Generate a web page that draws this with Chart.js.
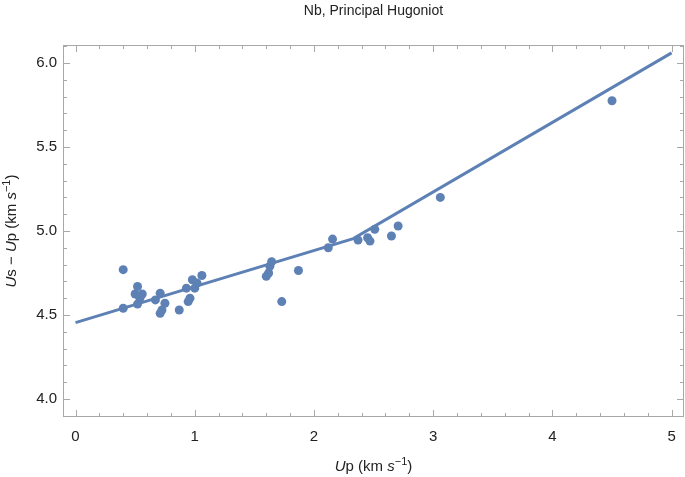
<!DOCTYPE html>
<html><head><meta charset="utf-8">
<script src="https://cdn.jsdelivr.net/npm/chart.js@4"></script>
<style>html,body{margin:0;padding:0;background:#fff}</style>
</head><body>
<canvas id="c" width="685" height="477"></canvas>
<script>
const chartTitle = "Nb, Principal Hugoniot";
// Measured data: particle velocity Up (km/s) and Us - Up (km/s)
const upValues = [0.40, 0.40, 0.50, 0.52, 0.56, 0.52, 0.54, 0.67, 0.71, 0.75, 0.71, 0.725,
  0.87, 0.945, 0.93, 0.96, 0.98, 1.00, 1.02, 1.06,
  1.60, 1.62, 1.63, 1.645, 1.73, 1.87,
  2.12, 2.156, 2.37, 2.45, 2.47, 2.51, 2.65, 2.706, 3.06, 4.50];
const usMinusUpValues = [4.77, 4.54, 4.625, 4.67, 4.625, 4.565, 4.60, 4.59, 4.63, 4.57, 4.51, 4.53,
  4.53, 4.58, 4.66, 4.60, 4.71, 4.66, 4.69, 4.735,
  4.73, 4.75, 4.79, 4.817, 4.58, 4.765,
  4.90, 4.952, 4.946, 4.96, 4.94, 5.01, 4.97, 5.03, 5.20, 5.775];
// Piecewise-linear fit
const fitUp = [0, 2.33, 5];
const fitUsMinusUp = [4.455, 4.955, 6.06];
const xMajorTicks = [0, 1, 2, 3, 4, 5];
const yMajorTicks = [4.0, 4.5, 5.0, 5.5, 6.0];
const xMinorStep = 0.2;
const yMinorStep = 0.1;

const BLUE = '#5E81B5';
const FRAME = '#a8a8a8';
const FONT = '"Liberation Sans", Arial, sans-serif';

function drawRich(ctx, segs, x, y, size) {
  const fontFor = s => (s.it ? 'italic ' : '') + (s.sup ? Math.round(size*0.7) : size) + 'px ' + FONT;
  let w = 0;
  segs.forEach(s => { ctx.font = fontFor(s); w += ctx.measureText(s.t).width; });
  let cx = x - w/2;
  ctx.textBaseline = 'middle';
  ctx.textAlign = 'left';
  segs.forEach(s => {
    ctx.font = fontFor(s);
    ctx.fillText(s.t, cx, s.sup ? y - size*0.35 : y);
    cx += ctx.measureText(s.t).width;
  });
}

const framePlugin = {
  id: 'frame',
  beforeDatasetsDraw(chart) {
    const ctx = chart.ctx, a = chart.chartArea;
    const xs = chart.scales.x, ys = chart.scales.y;
    ctx.save();
    ctx.strokeStyle = FRAME; ctx.lineWidth = 1;
    ctx.strokeRect(Math.round(a.left)+0.5, Math.round(a.top)+0.5, Math.round(a.right-a.left)-1, Math.round(a.bottom-a.top)-1);
    ctx.beginPath();
    const tick = (v, major, axis) => {
      const len = major ? 7 : 4;
      if (axis === 'x') {
        const p = Math.round(xs.getPixelForValue(v)) + 0.5;
        ctx.moveTo(p, a.bottom); ctx.lineTo(p, a.bottom - len);
        ctx.moveTo(p, a.top); ctx.lineTo(p, a.top + len);
      } else {
        const p = Math.round(ys.getPixelForValue(v)) + 0.5;
        ctx.moveTo(a.left, p); ctx.lineTo(a.left + len, p);
        ctx.moveTo(a.right, p); ctx.lineTo(a.right - len, p);
      }
    };
    for (let i = Math.ceil(xs.min / xMinorStep); i * xMinorStep <= xs.max + 1e-9; i++) {
      const v = i * xMinorStep;
      tick(v, xMajorTicks.some(m => Math.abs(m - v) < 1e-6), 'x');
    }
    for (let i = Math.ceil(ys.min / yMinorStep - 1e-9); i * yMinorStep <= ys.max + 1e-9; i++) {
      const v = i * yMinorStep;
      tick(v, yMajorTicks.some(m => Math.abs(m - v) < 1e-6), 'y');
    }
    ctx.stroke();
    ctx.restore();
  },
  afterDraw(chart) {
    const ctx = chart.ctx, a = chart.chartArea;
    const cx = (a.left + a.right) / 2, cy = (a.top + a.bottom) / 2;
    ctx.save();
    ctx.fillStyle = '#222';
    ctx.font = '14px ' + FONT;
    ctx.textAlign = 'center'; ctx.textBaseline = 'middle';
    ctx.fillText(chartTitle, cx, 11);
    drawRich(ctx, [{t:'U', it:true},{t:'p (km '},{t:'s', it:true},{t:'−1', sup:true},{t:')'}], cx, 467, 15);
    ctx.translate(12, cy);
    ctx.rotate(-Math.PI/2);
    drawRich(ctx, [{t:'U', it:true},{t:'s − '},{t:'U', it:true},{t:'p (km '},{t:'s', it:true},{t:'−1', sup:true},{t:')'}], 0, 0, 15);
    ctx.restore();
  }
};

new Chart(document.getElementById('c'), {
  type: 'scatter',
  data: {
    datasets: [
      {
        label: 'fit',
        type: 'line',
        data: fitUp.map((x, i) => ({x, y: fitUsMinusUp[i]})),
        borderColor: BLUE, borderWidth: 3, pointRadius: 0, fill: false, tension: 0,
        order: 2
      },
      {
        label: 'data',
        data: upValues.map((x, i) => ({x, y: usMinusUpValues[i]})),
        backgroundColor: BLUE, borderWidth: 0, pointRadius: 4.5, pointHoverRadius: 4.5,
        order: 1
      }
    ]
  },
  options: {
    responsive: false, animation: false, devicePixelRatio: 1,
    layout: { autoPadding: false, padding: { top: 45, right: 1, left: 0, bottom: 0 } },
    plugins: { legend: { display: false }, title: { display: false }, tooltip: { enabled: false } },
    scales: {
      x: {
        type: 'linear', min: -0.105, max: 5.104,
        grid: { display: false, drawTicks: true, tickLength: 11 }, border: { display: false },
        afterBuildTicks: s => { s.ticks = xMajorTicks.map(v => ({value: v})); },
        afterFit: s => { s.height = 60; },
        ticks: { padding: 0, color: '#222', font: { family: FONT, size: 15 }, callback: v => String(v), maxRotation: 0 }
      },
      y: {
        type: 'linear', min: 3.893, max: 6.107,
        grid: { display: false, drawTicks: true, tickLength: 6 }, border: { display: false },
        afterBuildTicks: s => { s.ticks = yMajorTicks.map(v => ({value: v})); },
        afterFit: s => { s.width = 63; },
        ticks: { padding: 0, color: '#222', font: { family: FONT, size: 15 }, callback: v => Number(v).toFixed(1) }
      }
    }
  },
  plugins: [framePlugin]
});
</script>
</body></html>
